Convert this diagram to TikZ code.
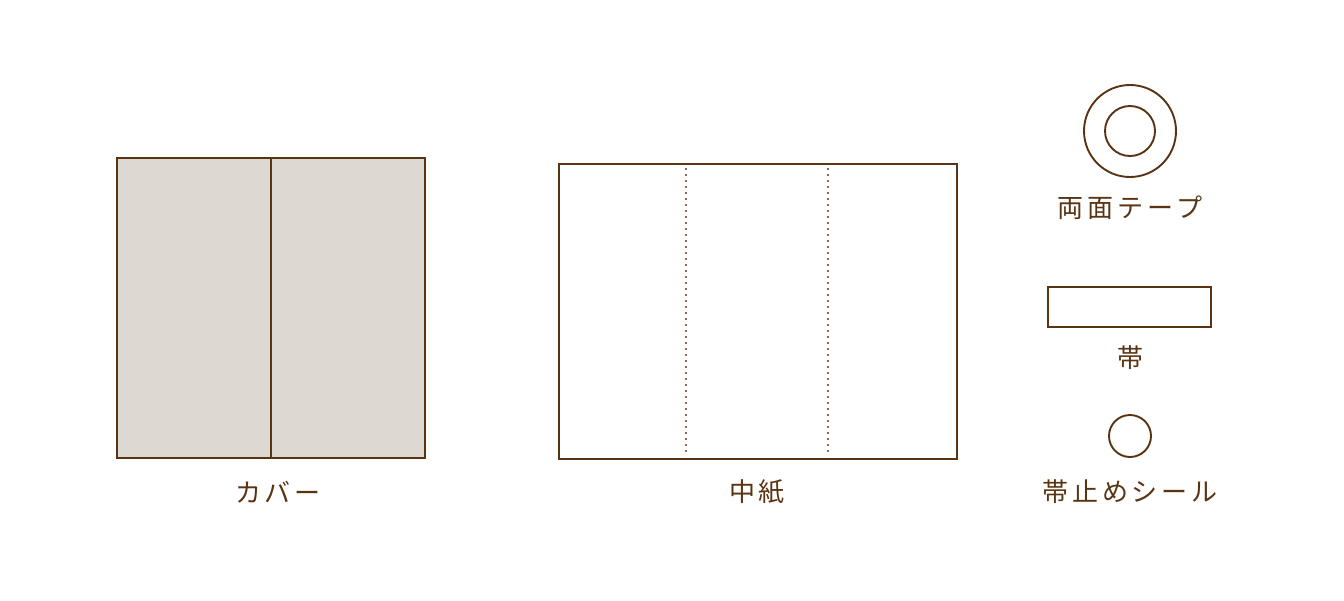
\documentclass[tikz,border=0pt]{standalone}
\usepackage{fontspec}
\newfontfamily\jp[LetterSpace=15]{Noto Sans CJK JP}
\definecolor{brn}{HTML}{5A3412}
\definecolor{dotc}{HTML}{8C6A52}
\definecolor{cov}{HTML}{DDD9D2}
\tikzset{
  shape line/.style={draw=brn, line width=1.9pt},
  lbl/.style={text=brn, font=\jp\fontsize{26}{30}\selectfont, inner sep=0pt},
  fold/.style={draw=dotc, line width=1.6pt, dash pattern=on 1.6pt off 4.4pt}
}
\begin{document}
\begin{tikzpicture}[x=1pt,y=-1pt]
\useasboundingbox (0,0) rectangle (1344,600);
% cover
\node[shape line, fill=cov, minimum width=308pt, minimum height=300pt, inner sep=0pt, anchor=north west] (cover) at (116,157) {};
\draw[shape line] (cover.north) -- (cover.south);
\node[lbl] (coverlbl) at (278,492) {カバー};
% inner paper
\node[shape line, fill=white, minimum width=398pt, minimum height=295pt, inner sep=0pt, anchor=north west] (paper) at (558,163) {};
\coordinate (f1t) at (686,168); \coordinate (f1b) at (686,452);
\coordinate (f2t) at (828,168); \coordinate (f2b) at (828,452);
\draw[fold] (f1t) -- (f1b);
\draw[fold] (f2t) -- (f2b);
\node[lbl] (paperlbl) at (757,492) {中紙};
% tape
\node[shape line, circle, minimum size=92pt, inner sep=0pt] (tapeo) at (1130,131) {};
\node[shape line, circle, minimum size=50pt, inner sep=0pt] (tapei) at (1130,131) {};
\node[lbl] (tapelbl) at (1130,208) {両面テープ};
% band
\node[shape line, minimum width=163pt, minimum height=40pt, inner sep=0pt] (band) at (1129.5,307) {};
\node[lbl] (bandlbl) at (1130,358) {帯};
% seal
\node[shape line, circle, minimum size=42pt, inner sep=0pt] (seal) at (1130,436) {};
\node[lbl] (seallbl) at (1130,492) {帯止めシール};
\end{tikzpicture}
\end{document}
